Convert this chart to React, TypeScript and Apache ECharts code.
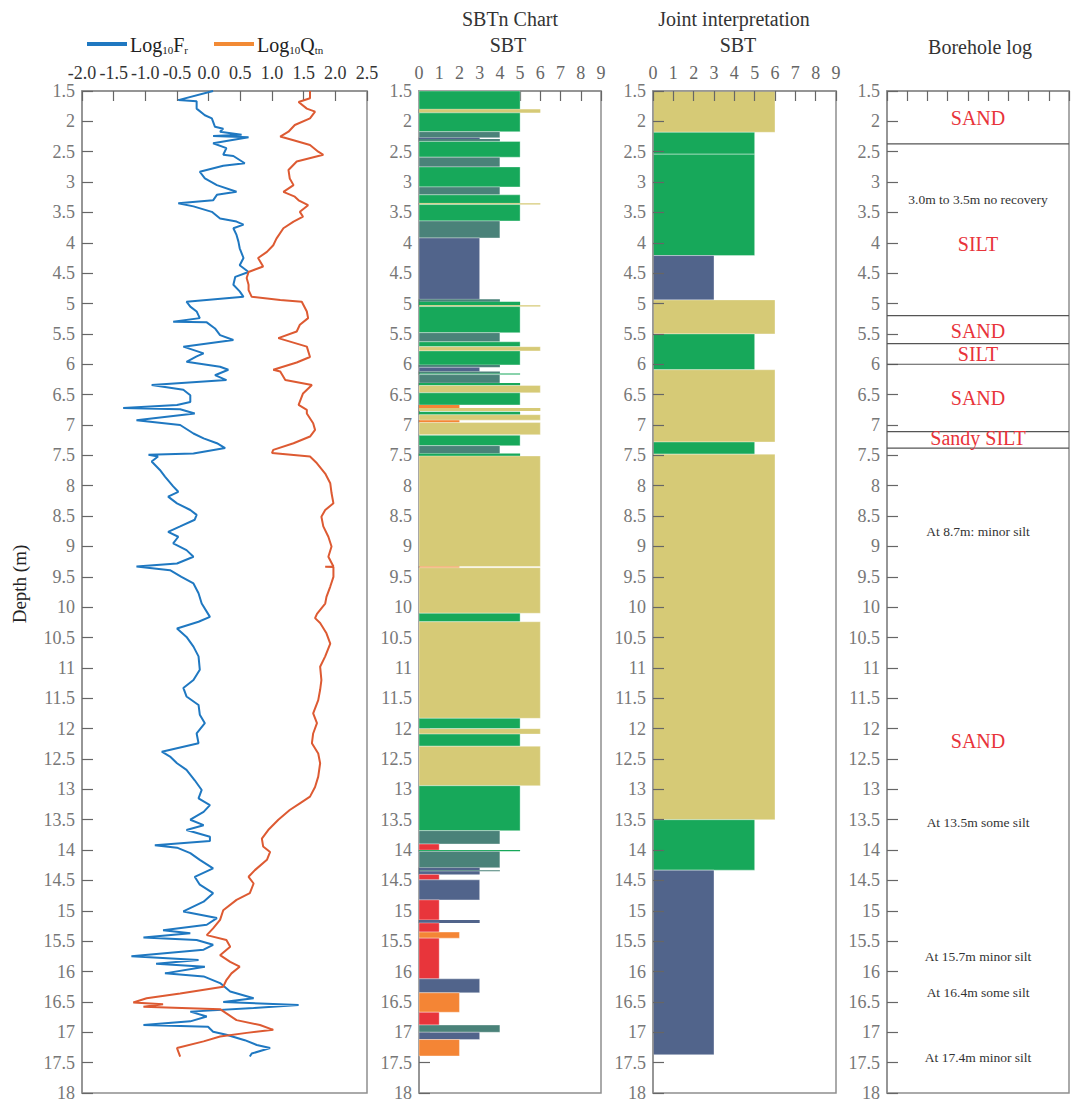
import React, { useEffect, useRef } from 'react';
import * as echarts from 'echarts';

const FONT = "'Liberation Serif', 'Times New Roman', serif";

// CPT-derived normalised friction ratio (log10 Fr) against depth (m)
const frDepth = [
  1.5, 1.65, 1.67, 1.79, 1.9, 1.95, 2.09, 2.12, 2.17, 2.22, 2.24, 2.26, 2.36, 2.44, 2.55, 2.57, 2.69, 2.73,
  2.83, 2.94, 3.05, 3.16, 3.21, 3.3, 3.35, 3.4, 3.49, 3.6, 3.65, 3.7, 3.76, 3.87, 3.98, 4.09, 4.25, 4.37,
  4.48, 4.56, 4.69, 4.8, 4.89, 4.97, 5.05, 5.13, 5.24, 5.3, 5.31, 5.41, 5.52, 5.6, 5.71, 5.82, 5.87, 5.96,
  6.04, 6.09, 6.18, 6.26, 6.34, 6.42, 6.51, 6.62, 6.67, 6.72, 6.74, 6.81, 6.92, 7.0, 7.14, 7.22, 7.3, 7.38,
  7.47, 7.49, 7.52, 7.6, 7.74, 7.85, 8.01, 8.1, 8.18, 8.29, 8.4, 8.48, 8.56, 8.67, 8.76, 8.84, 8.95, 9.06,
  9.17, 9.28, 9.33, 9.39, 9.5, 9.61, 9.77, 9.94, 10.16, 10.24, 10.35, 10.49, 10.65, 10.81, 11.03, 11.2,
  11.33, 11.47, 11.61, 11.77, 11.91, 12.08, 12.24, 12.38, 12.46, 12.57, 12.68, 12.85, 13.01, 13.15, 13.26,
  13.37, 13.5, 13.59, 13.67, 13.78, 13.85, 13.92, 13.96, 14.05, 14.16, 14.3, 14.44, 14.57, 14.71, 14.85,
  15.01, 15.12, 15.23, 15.32, 15.37, 15.44, 15.48, 15.56, 15.64, 15.75, 15.81, 15.87, 15.92, 16.03, 16.08,
  16.19, 16.33, 16.44, 16.5, 16.55, 16.6, 16.66, 16.74, 16.82, 16.88, 16.91, 16.99, 17.04, 17.13, 17.21,
  17.26, 17.35, 17.4,
];
const frValue = [
  0.07, -0.48, -0.19, -0.19, -0.06, 0.05, 0.1, 0.23, 0.18, 0.52, 0.07, 0.63, 0.07, 0.28, 0.23, 0.39, 0.57, 0.23,
  -0.14, -0.06, 0.13, 0.44, 0.13, 0.07, -0.48, -0.24, 0.05, 0.18, 0.44, 0.55, 0.39, 0.44, 0.47, 0.49, 0.55, 0.49,
  0.63, 0.42, 0.39, 0.49, 0.55, -0.35, -0.29, -0.19, -0.14, -0.56, -0.03, 0.1, 0.18, 0.39, -0.4, -0.08, -0.19, -0.35,
  0.18, 0.31, 0.1, 0.28, -0.9, -0.4, -0.29, -0.29, -0.5, -1.35, -0.45, -0.22, -1.14, -0.45, -0.24, -0.08, 0.13, 0.26,
  -0.24, -0.95, -0.8, -0.9, -0.77, -0.69, -0.56, -0.48, -0.64, -0.5, -0.29, -0.19, -0.22, -0.45, -0.64, -0.48, -0.56, -0.35,
  -0.24, -0.5, -1.14, -0.61, -0.43, -0.24, -0.16, -0.11, 0.02, -0.16, -0.5, -0.35, -0.24, -0.16, -0.14, -0.24,
  -0.4, -0.35, -0.16, -0.14, -0.06, -0.19, -0.16, -0.74, -0.61, -0.5, -0.35, -0.22, -0.11, -0.16, 0.02,
  -0.08, -0.29, -0.08, -0.35, 0.02, 0.02, -0.85, -0.5, -0.29, -0.14, 0.07, -0.22, -0.14, 0.07, -0.08,
  -0.4, 0.13, -0.03, -0.72, -0.29, -1.03, -0.19, 0.07, -0.08, -1.22, -0.16, -0.83, -0.06, -0.69, -0.08,
  0.18, 0.34, 0.71, 0.23, 1.42, 0.71, -0.29, -0.03, -0.29, -1.03, -0.01, 0.07, 0.28, 0.57, 0.76,
  0.97, 0.68, 0.65,
];

// Normalised cone resistance (log10 Qtn) against depth (m)
const qtnDepth = [
  1.5, 1.62, 1.68, 1.79, 1.84, 1.95, 2.06, 2.17, 2.25, 2.31, 2.39, 2.5, 2.55, 2.66, 2.8, 2.94, 3.05, 3.16,
  3.24, 3.3, 3.38, 3.49, 3.57, 3.65, 3.76, 3.93, 4.04, 4.15, 4.25, 4.39, 4.48, 4.58, 4.69, 4.78, 4.89, 4.94,
  4.97, 5.13, 5.24, 5.35, 5.46, 5.57, 5.71, 5.88, 5.97, 6.09, 6.12, 6.26, 6.34, 6.48, 6.67, 6.75, 6.81, 6.97,
  7.08, 7.19, 7.3, 7.41, 7.46, 7.52, 7.63, 7.8, 7.96, 8.12, 8.29, 8.4, 8.51, 8.67, 8.84, 9.0, 9.17, 9.33,
  9.335, 9.34, 9.5, 9.66, 9.83, 9.94, 10.11, 10.18, 10.26, 10.43, 10.6, 10.81, 10.98, 11.2, 11.36, 11.53,
  11.75, 11.91, 12.08, 12.24, 12.41, 12.57, 12.79, 12.96, 13.12, 13.23, 13.34, 13.5, 13.67, 13.81, 13.94,
  14.03, 14.16, 14.33, 14.44, 14.55, 14.71, 14.82, 14.99, 15.15, 15.29, 15.4, 15.48, 15.59, 15.73, 15.84,
  15.92, 16.03, 16.14, 16.25, 16.36, 16.44, 16.51, 16.54, 16.58, 16.62, 16.69, 16.8, 16.88, 16.96, 17.01,
  17.07, 17.15, 17.26, 17.4,
];
const qtnValue = [
  1.6, 1.6, 1.42, 1.55, 1.68, 1.6, 1.36, 1.26, 1.13, 1.34, 1.6, 1.73, 1.81, 1.39, 1.26, 1.28, 1.34, 1.18,
  1.36, 1.42, 1.57, 1.44, 1.49, 1.34, 1.18, 1.07, 1.02, 0.92, 0.78, 0.86, 0.63, 0.6, 0.63, 0.63, 0.68, 1.13,
  1.47, 1.55, 1.57, 1.44, 1.39, 1.1, 1.55, 1.6, 1.39, 1.02, 1.13, 1.21, 1.63, 1.49, 1.42, 1.55, 1.55, 1.65,
  1.68, 1.6, 1.34, 1.02, 1.0, 1.6, 1.71, 1.84, 1.92, 1.94, 1.97, 1.84, 1.78, 1.81, 1.89, 1.94, 1.89, 1.97,
  1.84, 1.97, 1.97, 1.92, 1.86, 1.84, 1.71, 1.68, 1.76, 1.86, 1.92, 1.84, 1.76, 1.78, 1.76, 1.73,
  1.65, 1.71, 1.65, 1.63, 1.73, 1.76, 1.73, 1.68, 1.6, 1.44, 1.28, 1.1, 0.94, 0.84, 0.86,
  0.97, 0.92, 0.73, 0.63, 0.71, 0.65, 0.44, 0.23, 0.18, 0.07, -0.03, 0.28, 0.34, 0.18, 0.34,
  0.49, 0.36, 0.28, 0.23, -0.45, -0.98, -1.19, -0.72, -1.03, 0.18, 0.28, 0.44, 0.81, 1.02, 0.6,
  0.18, -0.08, -0.5, -0.45,
];

// SBTn zones from the CPT classification: interval top, base (m) and zone number
const sbtnTop = [
  1.5, 1.8, 1.86, 2.17, 2.27, 2.29, 2.33, 2.59, 2.75, 3.08, 3.21, 3.35, 3.37, 3.64, 3.92, 4.93, 4.97, 5.03,
  5.05, 5.48, 5.63, 5.71, 5.78, 6.01, 6.05, 6.12, 6.15, 6.17, 6.31, 6.35, 6.47, 6.67, 6.72, 6.78, 6.83, 6.92,
  6.96, 7.17, 7.34, 7.47, 7.51, 9.33, 9.35, 10.1, 10.24, 11.83, 12.0, 12.09, 12.29, 12.94, 13.68, 13.9, 14.0,
  14.02, 14.29, 14.33, 14.35, 14.4, 14.49, 14.82, 15.15, 15.2, 15.35, 15.45, 16.12, 16.35, 16.67, 16.88, 17.0,
  17.12,
];
const sbtnBase = [
  1.8, 1.86, 2.17, 2.27, 2.29, 2.33, 2.59, 2.75, 3.08, 3.21, 3.35, 3.37, 3.64, 3.92, 4.93, 4.97, 5.03, 5.05,
  5.48, 5.63, 5.71, 5.78, 6.01, 6.05, 6.12, 6.15, 6.17, 6.31, 6.35, 6.47, 6.67, 6.72, 6.77, 6.83, 6.92, 6.96,
  7.16, 7.34, 7.47, 7.51, 9.33, 9.35, 10.1, 10.24, 11.83, 12.0, 12.09, 12.29, 12.94, 13.68, 13.9, 14.0, 14.02,
  14.29, 14.33, 14.35, 14.4, 14.49, 14.82, 15.15, 15.2, 15.35, 15.45, 16.12, 16.35, 16.67, 16.88, 17.0, 17.12,
  17.39,
];
const sbtnZone = [
  5, 6, 5, 4, 3, 4, 5, 4, 5, 4, 5, 6, 5, 4, 3, 4, 5, 6,
  5, 4, 5, 6, 5, 4, 3, 4, 5, 4, 5, 6, 5, 2, 6, 5, 6, 2,
  6, 5, 4, 5, 6, 2, 6, 5, 6, 5, 6, 5, 6, 5, 4, 1, 5,
  4, 3, 4, 3, 1, 3, 1, 3, 1, 2, 1, 3, 2, 1, 4, 3,
  2,
];

// Joint interpretation of CPT and borehole
const jointTop = [1.5, 2.18, 2.54, 4.21, 4.94, 5.5, 6.09, 7.28, 7.48, 13.5, 14.33];
const jointBase = [2.18, 2.54, 4.21, 4.94, 5.5, 6.09, 7.28, 7.48, 13.5, 14.33, 17.37];
const jointZone = [6, 5, 5, 3, 6, 5, 6, 5, 6, 5, 3];

// Borehole log: layer boundaries and descriptions
const logBoundaries = [2.37, 5.2, 5.66, 6.0, 7.11, 7.38];
const logLabelDepth = [1.94, 3.28, 4.02, 5.45, 5.83, 6.56, 7.21, 8.76, 12.2, 13.54, 15.76, 16.34, 17.41];
const logLabelText = [
  'SAND', '3.0m to 3.5m no recovery', 'SILT', 'SAND', 'SILT', 'SAND', 'Sandy SILT',
  'At 8.7m: minor silt', 'SAND', 'At 13.5m some silt', 'At 15.7m minor silt', 'At 16.4m some silt',
  'At 17.4m minor silt',
];
const logLabelIsSoil = [true, false, true, true, true, true, true, false, true, false, false, false, false];

const zoneColor: Record<number, string> = {
  1: '#E8353B',
  2: '#F48535',
  3: '#51648B',
  4: '#4A8279',
  5: '#17A85A',
  6: '#D6CA76',
};

const DEPTH_MIN = 1.5;
const DEPTH_MAX = 18;

const GRIDS = [
  { left: 82, width: 285 },
  { left: 419, width: 182 },
  { left: 653, width: 183 },
  { left: 887, width: 182 },
];
const GRID_TOP = 91;
const GRID_HEIGHT = 1002;

function zoneRenderer(params: any, api: any) {
  const top = api.value(0);
  const base = api.value(1);
  const zone = api.value(2);
  const p0 = api.coord([0, top]);
  const p1 = api.coord([zone, base]);
  const h = p1[1] - p0[1];
  return {
    type: 'rect',
    shape: { x: p0[0], y: p0[1], width: p1[0] - p0[0], height: h },
    style: {
      fill: zoneColor[zone],
      stroke: h > 4 ? 'rgba(255,255,255,0.35)' : null,
      lineWidth: 1,
    },
  };
}

export default function App() {
  const ref = useRef<HTMLDivElement>(null);

  useEffect(() => {
    if (!ref.current) return;
    const chart = echarts.init(ref.current, null, { renderer: 'svg' });

    const axisLineStyle = { color: '#8f8f8f', width: 1.5 };
    const tickStyle = { color: '#666', width: 1.2 };

    const xAxis: any[] = GRIDS.map((_, i) => {
      const isLog = i === 0;
      return {
        type: 'value',
        gridIndex: i,
        position: 'top',
        min: isLog ? -2 : 0,
        max: isLog ? 2.5 : 9,
        interval: isLog ? 0.5 : 1,
        z: i === 2 ? 5 : 0,
        axisLine: { show: true, onZero: false, lineStyle: axisLineStyle },
        axisTick: { show: true, inside: true, length: 10, lineStyle: tickStyle },
        splitLine: { show: false },
        axisLabel: {
          show: i !== 3,
          margin: 9,
          fontFamily: FONT,
          fontSize: 18,
          color: isLog ? '#333' : '#666',
          formatter: (v: number) => (isLog ? v.toFixed(1) : String(v)),
        },
      };
    });

    const yAxis: any[] = GRIDS.map((_, i) => ({
      type: 'value',
      gridIndex: i,
      inverse: true,
      min: DEPTH_MIN,
      max: DEPTH_MAX,
      interval: 0.5,
      z: i === 2 ? 5 : 0,
      axisLine: { show: true, onZero: false, lineStyle: axisLineStyle },
      axisTick: { show: true, inside: true, length: 11, lineStyle: tickStyle },
      splitLine: { show: false },
      axisLabel: {
        margin: 7,
        fontFamily: FONT,
        fontSize: 18,
        color: '#777',
        formatter: (v: number) => String(v),
      },
    }));

    const richLegend = {
      m: { fontSize: 20, fontFamily: FONT, fill: '#222' },
      s: { fontSize: 11, fontFamily: FONT, fill: '#222', verticalAlign: 'bottom' },
    };

    const option: any = {
      animation: false,
      backgroundColor: '#fff',
      textStyle: { fontFamily: FONT },
      grid: GRIDS.map((g) => ({
        left: g.left,
        width: g.width,
        top: GRID_TOP,
        height: GRID_HEIGHT,
        show: true,
        borderColor: '#8f8f8f',
        borderWidth: 1.5,
        backgroundColor: 'transparent',
      })),
      xAxis,
      yAxis,
      graphic: [
        // legend of the CPT log panel
        { type: 'rect', shape: { x: 87, y: 42, width: 40, height: 4 }, style: { fill: '#1F78C1' } },
        {
          type: 'text',
          x: 130,
          y: 45,
          style: { text: '{m|Log}{s|10}{m|F}{s|r}', verticalAlign: 'middle', rich: richLegend },
        },
        { type: 'rect', shape: { x: 214, y: 42, width: 40, height: 4 }, style: { fill: '#F28A35' } },
        {
          type: 'text',
          x: 257,
          y: 45,
          style: { text: '{m|Log}{s|10}{m|Q}{s|tn}', verticalAlign: 'middle', rich: richLegend },
        },
        // panel titles
        { type: 'text', x: 510, y: 19, style: { text: 'SBTn Chart', font: `20px ${FONT}`, fill: '#333', align: 'center', verticalAlign: 'middle' } },
        { type: 'text', x: 508, y: 45, style: { text: 'SBT', font: `20px ${FONT}`, fill: '#333', align: 'center', verticalAlign: 'middle' } },
        { type: 'text', x: 734, y: 19, style: { text: 'Joint interpretation', font: `20px ${FONT}`, fill: '#333', align: 'center', verticalAlign: 'middle' } },
        { type: 'text', x: 738, y: 45, style: { text: 'SBT', font: `20px ${FONT}`, fill: '#333', align: 'center', verticalAlign: 'middle' } },
        { type: 'text', x: 980, y: 47, style: { text: 'Borehole log', font: `20px ${FONT}`, fill: '#333', align: 'center', verticalAlign: 'middle' } },
        // depth axis name
        {
          type: 'text',
          x: 19,
          y: 584,
          rotation: Math.PI / 2,
          style: { text: 'Depth (m)', font: `19px ${FONT}`, fill: '#222', align: 'center', verticalAlign: 'middle' },
        },
      ],
      series: [
        {
          name: 'Log10Fr',
          type: 'line',
          xAxisIndex: 0,
          yAxisIndex: 0,
          symbol: 'none',
          smooth: false,
          lineStyle: { color: '#1F78C1', width: 2 },
          data: frDepth.map((d, i) => [frValue[i], d]),
          z: 3,
        },
        {
          name: 'Log10Qtn',
          type: 'line',
          xAxisIndex: 0,
          yAxisIndex: 0,
          symbol: 'none',
          smooth: false,
          lineStyle: { color: '#DD5A32', width: 2 },
          data: qtnDepth.map((d, i) => [qtnValue[i], d]),
          z: 3,
        },
        {
          name: 'SBTn',
          type: 'custom',
          xAxisIndex: 1,
          yAxisIndex: 1,
          renderItem: zoneRenderer,
          encode: { x: 2, y: [0, 1] },
          data: sbtnTop.map((t, i) => [t, sbtnBase[i], sbtnZone[i]]),
        },
        {
          name: 'Joint',
          type: 'custom',
          xAxisIndex: 2,
          yAxisIndex: 2,
          renderItem: zoneRenderer,
          encode: { x: 2, y: [0, 1] },
          data: jointTop.map((t, i) => [t, jointBase[i], jointZone[i]]),
        },
        {
          name: 'Boundaries',
          type: 'custom',
          xAxisIndex: 3,
          yAxisIndex: 3,
          renderItem: (params: any, api: any) => {
            const d = api.value(0);
            const a = api.coord([0, d]);
            const b = api.coord([9, d]);
            return {
              type: 'line',
              shape: { x1: a[0], y1: a[1], x2: b[0], y2: b[1] },
              style: { stroke: '#555', lineWidth: 1.2 },
            };
          },
          encode: { y: 0 },
          data: logBoundaries.map((d) => [d]),
        },
        {
          name: 'Descriptions',
          type: 'custom',
          xAxisIndex: 3,
          yAxisIndex: 3,
          renderItem: (params: any, api: any) => {
            const idx = params.dataIndex;
            const p = api.coord([api.value(0), api.value(1)]);
            const soil = logLabelIsSoil[idx];
            return {
              type: 'text',
              x: p[0],
              y: p[1],
              style: {
                text: logLabelText[idx],
                font: soil ? `20px ${FONT}` : `13.5px ${FONT}`,
                fill: soil ? '#E8333A' : '#333',
                textAlign: 'center',
                textVerticalAlign: 'middle',
                align: 'center',
                verticalAlign: 'middle',
              },
            };
          },
          encode: { x: 0, y: 1 },
          data: logLabelDepth.map((d) => [4.5, d]),
        },
      ],
    };

    chart.setOption(option);
    return () => chart.dispose();
  }, []);

  return (
    <div
      ref={ref}
      style={{ position: 'absolute', left: 0, top: 0, width: 1071, height: 1103, background: '#fff' }}
    />
  );
}
